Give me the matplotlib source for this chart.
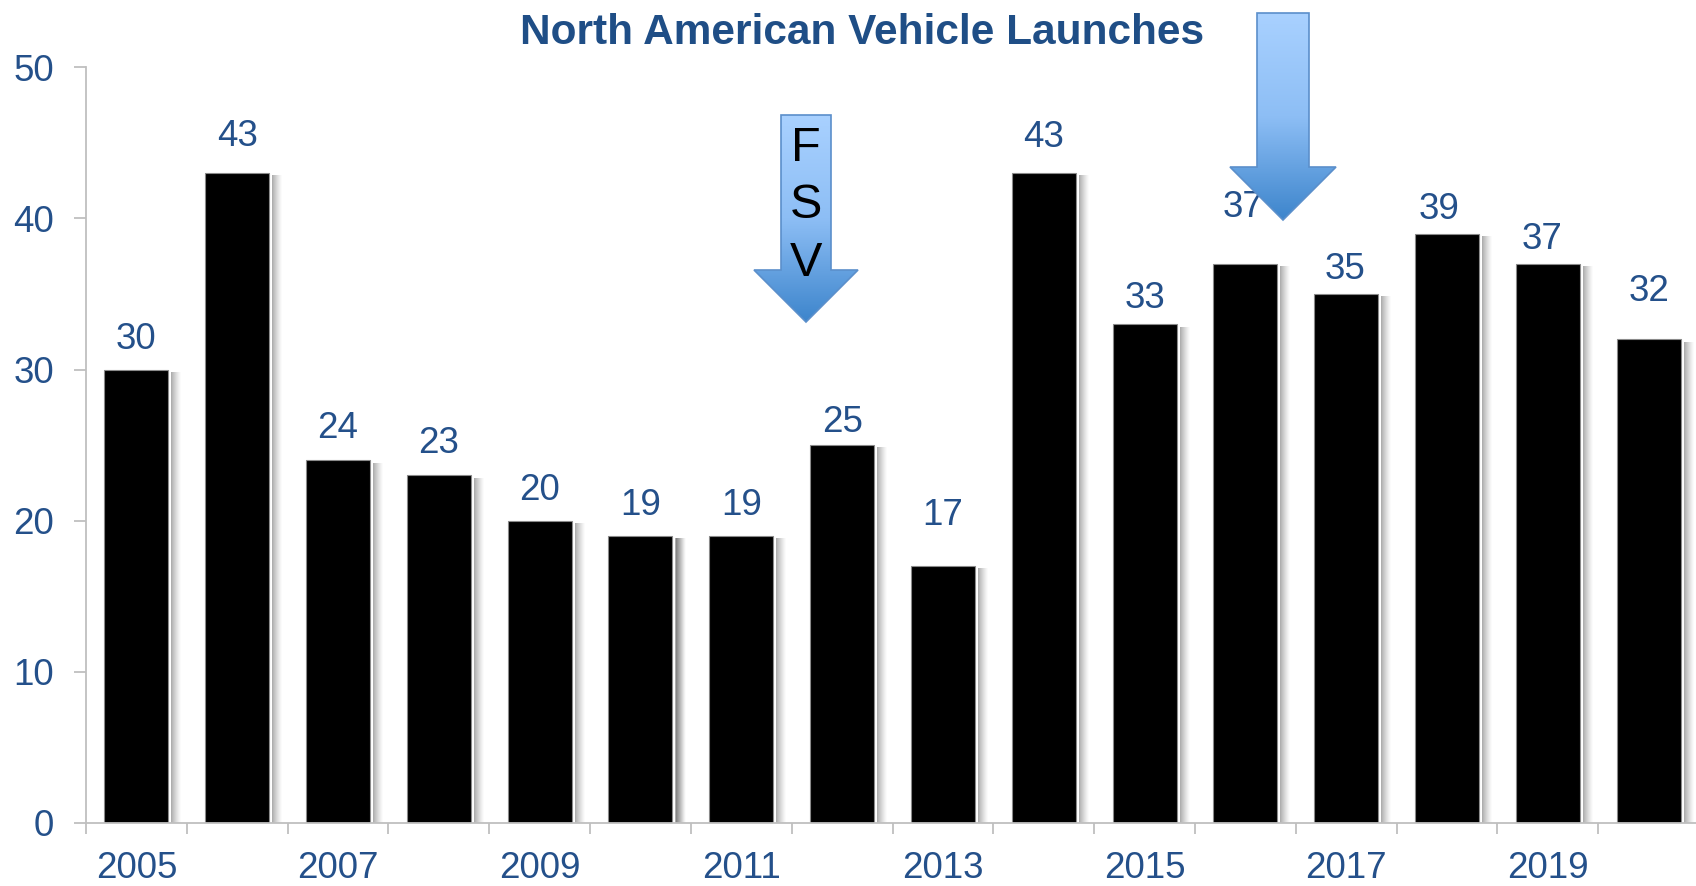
import numpy as np
import matplotlib
matplotlib.use("Agg")
import matplotlib.pyplot as plt
from matplotlib.patches import Polygon
from matplotlib.colors import LinearSegmentedColormap

plt.rcParams['font.family'] = ['Liberation Sans', 'DejaVu Sans']

years = list(range(2005, 2021))
launches = [30, 43, 24, 23, 20, 19, 19, 25, 17, 43, 33, 37, 35, 39, 37, 32]
title = "North American Vehicle Launches"
arrow_label = ["F", "S", "V"]

# per-label nudges (points) to mimic the hand-placed labels of the original
label_dy = [9, 14, 10, 10, 9, 9, 9, 4, 24, 13, 6, 28, 5, 5, 5, 22]
label_dx = [0, 0, 0, 0, 0, 0, 0, 0, 0, 0, 0, -2, -1, -6, -4, 0]

BLUE = '#24508A'
GRID = '#BFBFBF'

fig = plt.figure(figsize=(16.96, 8.86), dpi=100)
ax = fig.add_axes([86/1696, 63/886, 1613/1696, (823-67.3)/886])

x = np.arange(len(years))
W = 0.635
px = 1 / 100.8  # one pixel in category units
vals = np.array(launches, dtype=float)
# soft shadow on the right side of each bar
for k in range(10):
    a = 0.42 * (1 - k / 10) ** 1.3
    ax.bar(x + W/2 + (3 + k) * px, vals - 0.15, width=px * 1.05, align='edge',
           color='#404040', alpha=a, linewidth=0, zorder=1)
ax.bar(x, vals, width=W, color='black', edgecolor='#8A8A8A', linewidth=0.8, zorder=2)

for xi, v, dx, dy in zip(x, launches, label_dx, label_dy):
    ax.annotate(str(v), (xi, v), xytext=(dx, dy), textcoords='offset points',
                ha='center', va='bottom', fontsize=26.5, color=BLUE, zorder=3)

ax.set_xlim(-0.5, len(years) - 0.5)
ax.set_ylim(0, 50)
ax.set_yticks(range(0, 51, 10))
ax.set_xticks(x[::2])
ax.set_xticklabels([str(y) for y in years[::2]])
ax.set_xticks(np.arange(-0.5, len(years), 1.0), minor=True)
ax.tick_params(axis='x', which='major', length=0, pad=20, labelsize=26.5, labelcolor=BLUE)
ax.tick_params(axis='x', which='minor', length=8, width=1.3, color=GRID)
ax.tick_params(axis='y', length=9, width=1.3, color=GRID, pad=14, labelsize=26.5, labelcolor=BLUE)
for s in ['top', 'right']:
    ax.spines[s].set_visible(False)
for s in ['left', 'bottom']:
    ax.spines[s].set_color(GRID)
    ax.spines[s].set_linewidth(1.3)
    ax.spines[s].set_zorder(4)

fig.text(862/1696, 1 - 33/886, title, ha='center', va='center', fontsize=30.5,
         fontweight='bold', color='#1F4E86')

# overlay for the annotation arrows (pixel coordinates)
ov = fig.add_axes([0, 0, 1, 1], zorder=10)
ov.set_xlim(0, 1696)
ov.set_ylim(886, 0)
ov.axis('off')
ov.patch.set_alpha(0)

grad = np.linspace(0, 1, 256).reshape(-1, 1)
cmap = LinearSegmentedColormap.from_list('arr', ['#A9D1FF', '#8DBEF5', '#3D85CC'])

def down_arrow(cx, top, shaft_w, head_y, head_w, tip_y):
    pts = [(cx - shaft_w/2, top), (cx + shaft_w/2, top), (cx + shaft_w/2, head_y),
           (cx + head_w/2, head_y), (cx, tip_y), (cx - head_w/2, head_y),
           (cx - shaft_w/2, head_y)]
    poly = Polygon(pts, closed=True, facecolor='none', edgecolor='#5B8FCB',
                   linewidth=1.2, zorder=6)
    ov.add_patch(poly)
    im = ov.imshow(grad, cmap=cmap, extent=[cx - head_w/2, cx + head_w/2, tip_y, top],
                   origin='upper', aspect='auto', zorder=5)
    im.set_clip_path(poly)

down_arrow(806, 115, 50, 270, 104, 322)
down_arrow(1283, 13, 52, 167, 106, 220)
ov.set_xlim(0, 1696)
ov.set_ylim(886, 0)

for ch, py in zip(arrow_label, [148, 205, 263]):
    ov.text(806, py, ch, ha='center', va='center', fontsize=35,
            color='black', zorder=7)

fig.savefig('out.png', dpi=100)
